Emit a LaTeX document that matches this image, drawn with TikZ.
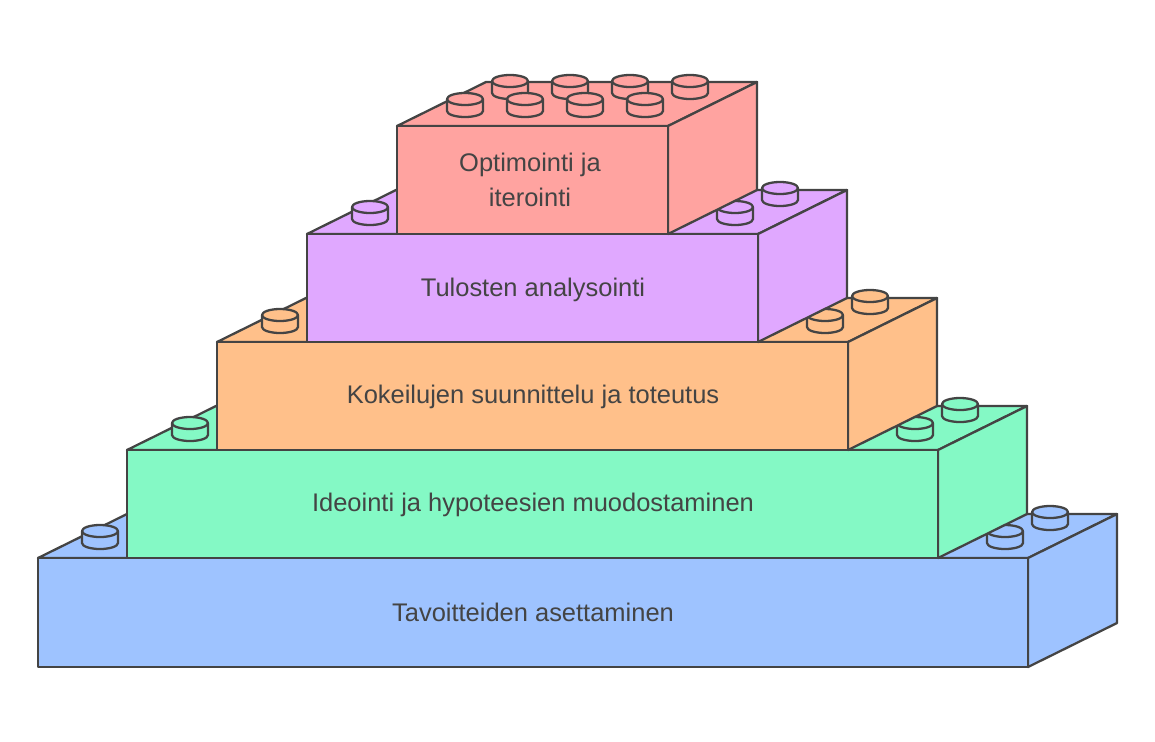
\documentclass[tikz,border=0pt]{standalone}
\usepackage{fontspec}
\setmainfont{Liberation Sans}
\definecolor{edge}{HTML}{444444}
\definecolor{cblue}{HTML}{9EC3FF}
\definecolor{cgreen}{HTML}{84F9C5}
\definecolor{corange}{HTML}{FFC08A}
\definecolor{cpurple}{HTML}{E0A8FF}
\definecolor{cred}{HTML}{FFA3A0}
\tikzset{
    brickline/.style={draw=edge, line width=1.3pt, line join=round},
    label/.style={text=edge, font=\fontsize{14.5}{20}\selectfont, align=center}
}
% brick: left, right, top, bottom, colour
\newcommand{\brick}[5]{%
    \filldraw[brickline, fill=#5] (#1,#3) -- ++(89,-44) -- (#2+89,#3-44) -- (#2,#3) -- cycle;
    \filldraw[brickline, fill=#5] (#2,#3) -- ++(89,-44) -- ++(0,#4-#3) -- (#2,#4) -- cycle;
    \filldraw[brickline, fill=#5] (#1,#3) rectangle (#2,#4);
}
% stud: x, y, colour
\newcommand{\stud}[3]{%
    \filldraw[brickline, fill=#3] (#1,#2) ++(-18,-12) -- ++(0,12) arc (180:0:18 and 6) -- ++(0,-12);
    \filldraw[brickline, fill=#3] (#1,#2-12) ellipse (18 and 6);
}
\begin{document}
\begin{tikzpicture}[x=0.02cm, y=-0.02cm]
    \useasboundingbox (0,0) rectangle (1155,741);

    \brick{38}{1028}{558}{667}{cblue}
    \stud{100}{543}{cblue}
    \stud{1005}{543}{cblue}
    \stud{1050}{524}{cblue}

    \brick{127}{938}{450}{558}{cgreen}
    \stud{190}{435}{cgreen}
    \stud{915}{435}{cgreen}
    \stud{960}{416}{cgreen}

    \brick{217}{848}{342}{450}{corange}
    \stud{280}{327}{corange}
    \stud{825}{327}{corange}
    \stud{870}{308}{corange}

    \brick{307}{758}{234}{342}{cpurple}
    \stud{370}{219}{cpurple}
    \stud{735}{219}{cpurple}
    \stud{780}{200}{cpurple}

    \brick{397}{668}{126}{234}{cred}
    \foreach \sx in {510,570,630,690} {\stud{\sx}{93}{cred}}
    \foreach \sx in {465,525,585,645} {\stud{\sx}{111}{cred}}

    \node (goals) [label] at (533,612) {Tavoitteiden asettaminen};
    \node (ideas) [label] at (533,505) {Ideointi ja hypoteesien muodostaminen};
    \node (tests) [label] at (533,397) {Kokeilujen suunnittelu ja toteutus};
    \node (results) [label] at (533,290) {Tulosten analysointi};
    \node (optim) [label] at (530,180) {Optimointi ja\\iterointi};
\end{tikzpicture}
\end{document}
